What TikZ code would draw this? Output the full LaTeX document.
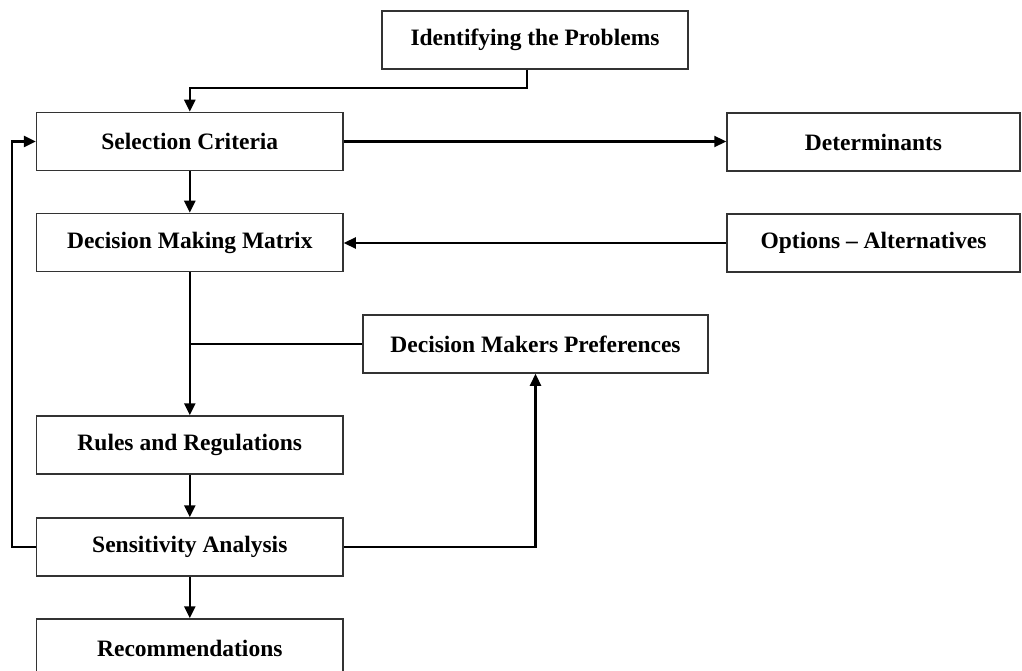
\documentclass[tikz,border=0pt]{standalone}
\usepackage{fontspec}
\setmainfont{Liberation Serif}
\usetikzlibrary{arrows.meta}
\begin{document}
\begin{tikzpicture}[x=1pt,y=-1pt,
  box/.style={draw=black!80, line width=1.5pt, rectangle, minimum height=58pt,
    inner sep=0pt, font=\fontsize{23.5}{27}\selectfont\bfseries, text=black},
  conn/.style={line width=2.2pt, black},
  arr/.style={conn, -{Triangle[length=12pt,width=11pt]}}]
\clip (0,0) rectangle (1022,671);
% main column
\node[box, minimum width=306.4pt] (sel)  at (189.8,141.5) {Selection Criteria};
\node[box, minimum width=306.4pt] (dmm)  at (189.8,242.5) {Decision Making Matrix};
\node[box, minimum width=306.4pt] (rul)  at (189.8,445)   {Rules and Regulations};
\node[box, minimum width=306.4pt] (sens) at (189.8,547)   {Sensitivity Analysis};
\node[box, minimum width=306.4pt] (rec)  at (189.8,648)   {Recommendations};
% side boxes
\node[box, minimum width=306pt]   (idp)  at (535,40)      {Identifying the Problems};
\node[box, minimum width=345pt]   (dmp)  at (535.5,344)   {Decision Makers Preferences};
\node[box, minimum width=293pt]   (det)  at (873.5,142)   {Determinants};
\node[box, minimum width=293pt]   (opt)  at (873.5,243)   {Options -- Alternatives};
\coordinate (drop) at (527,0);
% connectors
\draw[arr] (idp.south -| drop) -- ++(0,18) -| (sel.north);
\draw[arr] (sel.east) -- (sel.east -| det.west);
\draw[arr] (opt.west) -- (opt.west -| dmm.east);
\draw[arr] (sel.south) -- (dmm.north);
\draw[arr] (dmm.south) -- (rul.north);
\draw[conn] (dmp.west) -- (dmp.west -| dmm.south);
\draw[arr] (rul.south) -- (sens.north);
\draw[arr] (sens.south) -- (rec.north);
\draw[arr] (sens.west) -- ++(-23.6,0) |- (sel.west);
\draw[arr] (sens.east) -| (dmp.south);
\end{tikzpicture}
\end{document}
